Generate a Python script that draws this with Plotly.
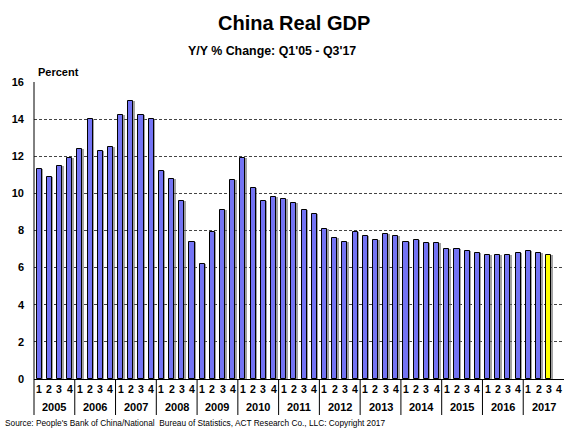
import plotly.graph_objects as go

# China real GDP, year-over-year % change by quarter
years = [2005, 2006, 2007, 2008, 2009, 2010, 2011, 2012, 2013, 2014, 2015, 2016, 2017]
quarters = ["1", "2", "3", "4"]
gdp_2005 = [11.3, 10.9, 11.5, 11.9]
gdp_2006 = [12.4, 14.0, 12.3, 12.5]
gdp_2007 = [14.2, 15.0, 14.2, 14.0]
gdp_2008 = [11.2, 10.8, 9.6, 7.4]
gdp_2009 = [6.2, 7.9, 9.1, 10.7]
gdp_2010 = [11.9, 10.3, 9.6, 9.8]
gdp_2011 = [9.7, 9.5, 9.1, 8.9]
gdp_2012 = [8.1, 7.6, 7.4, 7.9]
gdp_2013 = [7.7, 7.5, 7.8, 7.7]
gdp_2014 = [7.4, 7.5, 7.3, 7.3]
gdp_2015 = [7.0, 7.0, 6.9, 6.8]
gdp_2016 = [6.7, 6.7, 6.7, 6.8]
gdp_2017 = [6.9, 6.8, 6.7]
y_ticks = [0, 2, 4, 6, 8, 10, 12, 14, 16]

values = (gdp_2005 + gdp_2006 + gdp_2007 + gdp_2008 + gdp_2009 + gdp_2010 + gdp_2011
          + gdp_2012 + gdp_2013 + gdp_2014 + gdp_2015 + gdp_2016 + gdp_2017)
n_slots = len(years) * len(quarters)
xs = list(range(len(values)))

BLUE = "#7474f4"
LATEST = "#ffff00"
colors = [BLUE] * (len(values) - 1) + [LATEST]
FONT = "Liberation Sans, Arial, sans-serif"

fig = go.Figure()
# soft drop shadow behind each bar
fig.add_trace(go.Bar(
    x=xs, y=values, width=0.5, offset=-0.1,
    marker=dict(color="rgba(100,100,100,0.6)", line=dict(width=0)),
    hoverinfo="skip", showlegend=False,
))
fig.add_trace(go.Bar(
    x=xs, y=values, width=0.5,
    marker=dict(color=colors, line=dict(color="black", width=1)),
    showlegend=False,
))

plot_top, plot_bottom = 82, 379  # pixel rows of 16 and 0
plot_h = plot_bottom - plot_top

def paper_y(px):
    return (plot_bottom - px) / plot_h

shapes = []
annotations = []
line_bottom = paper_y(415)
# left axis extends down through the category labels
shapes.append(dict(type="line", xref="paper", yref="paper", x0=0, x1=0,
                   y0=line_bottom, y1=1, line=dict(color="black", width=1)))
for i, yr in enumerate(years):
    start = i * len(quarters) - 0.5
    if i > 0:
        shapes.append(dict(type="line", xref="x", yref="paper", x0=start, x1=start,
                           y0=line_bottom, y1=0, line=dict(color="black", width=1)))
    annotations.append(dict(x=start + len(quarters) / 2, y=paper_y(407), xref="x", yref="paper",
                            text=str(yr), showarrow=False, yanchor="middle",
                            font=dict(family=FONT, size=11, color="black", weight="bold")))
    for q, qlab in enumerate(quarters):
        annotations.append(dict(x=i * len(quarters) + q, y=paper_y(389), xref="x", yref="paper",
                                text=qlab, showarrow=False, yanchor="middle",
                                font=dict(family=FONT, size=10.5, color="black", weight="bold")))

annotations += [
    dict(x=294, y=23, xref="paper", yref="paper", text="China Real GDP", showarrow=False),
    dict(x=272, y=51, xref="paper", yref="paper", text="Y/Y % Change: Q1'05 - Q3'17", showarrow=False),
    dict(x=36, y=72, xref="paper", yref="paper", text="Percent", showarrow=False),
    dict(x=3, y=423, xref="paper", yref="paper", text="Source: People's Bank of China/National  Bureau of Statistics, ACT Research Co., LLC: Copyright 2017", showarrow=False),
]
# convert the header / footer pixel anchors into paper coordinates
W, H = 564, 430
left = 34
for a, size, bold, xa in zip(annotations[-4:], [20, 12.4, 11, 8.3], [True, True, True, False],
                            ["center", "center", "left", "left"]):
    a["x"] = (a["x"] - left) / (W - left)
    a["y"] = paper_y(a["y"])
    a["xanchor"] = xa
    a["yanchor"] = "middle"
    a["font"] = dict(family=FONT, size=size, color="black", weight="bold" if bold else "normal")

fig.update_layout(
    width=W, height=H,
    margin=dict(l=left, r=0, t=plot_top, b=H - plot_bottom, pad=0),
    paper_bgcolor="white", plot_bgcolor="white",
    barmode="overlay", bargap=0,
    shapes=shapes, annotations=annotations,
    font=dict(family=FONT, color="black"),
)
fig.update_xaxes(range=[-0.5, n_slots - 0.5], showticklabels=False, showgrid=False,
                 zeroline=False, showline=True, linecolor="black", linewidth=1, ticks="")
fig.update_yaxes(range=[0, 16], tickvals=y_ticks, showgrid=True, gridcolor="#444",
                 griddash="3px,2px", gridwidth=1, zeroline=False, showline=False,
                 ticks="", ticklabelstandoff=9,
                 tickfont=dict(family=FONT, size=11, color="black", weight="bold"))

fig.write_html("out.html")
